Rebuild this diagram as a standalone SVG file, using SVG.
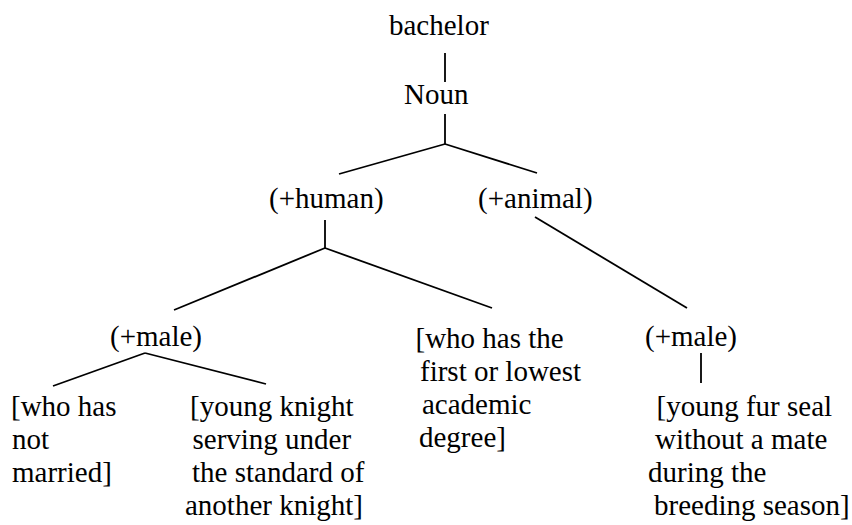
<svg xmlns="http://www.w3.org/2000/svg" width="852" height="525" viewBox="0 0 852 525" font-family="Liberation Serif, Tinos, Times New Roman, serif">
<style>
text{font-family:'Liberation Serif','Tinos','Times New Roman','Nimbus Roman',serif;font-size:29px;fill:#000}
.c line{stroke:#000;stroke-width:1.8;stroke-linecap:butt}
</style>
<rect width="852" height="525" fill="#fff"/>
<g class="c" id="connectors">
<line x1="445" y1="53" x2="445" y2="82"/>
<line x1="445" y1="114" x2="445" y2="144"/>
<line x1="445" y1="144" x2="339" y2="174"/>
<line x1="445" y1="144" x2="537" y2="173"/>
<line x1="325" y1="220" x2="325" y2="248"/>
<line x1="325" y1="248" x2="174" y2="310"/>
<line x1="325" y1="248" x2="492" y2="308"/>
<line x1="535" y1="217" x2="687" y2="308"/>
<line x1="145" y1="353" x2="53" y2="386"/>
<line x1="145" y1="353" x2="266" y2="384"/>
<line x1="701" y1="353" x2="701" y2="383"/>
</g>
<g id="bachelor"><text x="389" y="35">bachelor</text></g>
<g id="noun"><text x="404" y="104">Noun</text></g>
<g id="human"><text x="269" y="208">(+human)</text></g>
<g id="animal"><text x="478" y="208">(+animal)</text></g>
<g id="male-left"><text x="110" y="346">(+male)</text></g>
<g id="male-right"><text x="645" y="346">(+male)</text></g>
<g id="degree">
<text x="415.5" y="348">[who has the</text>
<text x="420" y="381">first or lowest</text>
<text x="422" y="414">academic</text>
<text x="419" y="447">degree]</text>
</g>
<g id="not-married">
<text x="11" y="416">[who has</text>
<text x="12" y="449">not</text>
<text x="12" y="482">married]</text>
</g>
<g id="knight">
<text x="190" y="416">[young knight</text>
<text x="192.5" y="449">serving under</text>
<text x="192" y="482">the standard of</text>
<text x="185" y="515">another knight]</text>
</g>
<g id="seal">
<text x="656.5" y="416">[young fur seal</text>
<text x="655" y="449">without a mate</text>
<text x="648" y="482">during the</text>
<text x="654" y="515">breeding season]</text>
</g>
</svg>
